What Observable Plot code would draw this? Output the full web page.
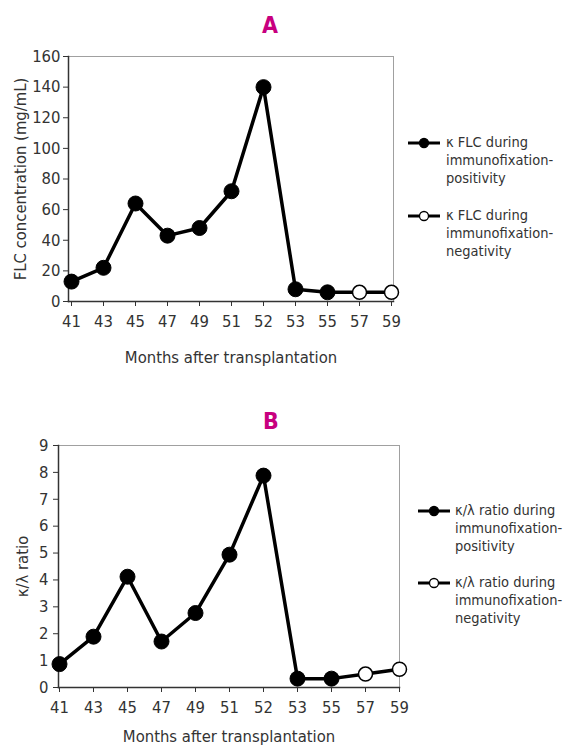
<!DOCTYPE html>
<html><head><meta charset="utf-8">
<script src="https://cdn.jsdelivr.net/npm/d3@7"></script>
<script src="https://cdn.jsdelivr.net/npm/@observablehq/plot@0.6"></script>
<style>
body{margin:0;background:#fff;}
#wrap{position:relative;width:572px;height:746px;overflow:hidden;font-family:"DejaVu Sans Condensed","DejaVu Sans",sans-serif;font-stretch:condensed;color:#333;}
.title{position:absolute;font-weight:bold;font-size:23px;color:#c8007f;transform:translate(-50%,-50%);line-height:1;}
.panel{position:absolute;left:0;}
.legend{position:absolute;font-size:14.5px;line-height:18px;color:#333;}
.legend svg{position:absolute;left:0;}
.legend .txt{position:absolute;}
</style></head>
<body><div id="wrap"></div>
<script>
const months = ["41","43","45","47","49","51","52","53","55","57","59"];
const flcValues = [13,22,64,43,48,72,140,8,6,6,6];
const ratioValues = [0.87,1.89,4.12,1.71,2.77,4.94,7.88,0.33,0.33,0.5,0.68];
const immunofixation = ["positive","positive","positive","positive","positive","positive","positive","positive","positive","negative","negative"];
const flcTicks = [0,20,40,60,80,100,120,140,160];
const ratioTicks = [0,1,2,3,4,5,6,7,8,9];
const xTitle = "Months after transplantation";
const legendA = [["κ FLC during","immunofixation-","positivity"],["κ FLC during","immunofixation-","negativity"]];
const legendB = [["κ/λ ratio during","immunofixation-","positivity"],["κ/λ ratio during","immunofixation-","negativity"]];

const FONT = '"DejaVu Sans Condensed","DejaVu Sans",sans-serif';
const wrap = document.getElementById("wrap");

function panel(o){
  const data = months.map((m,i)=>({month:m, value:o.values[i], status:immunofixation[i]}));
  return Plot.plot({
    width:572, height:o.height,
    marginLeft:o.mL, marginRight:o.mR, marginTop:o.mT, marginBottom:o.mB,
    style:{fontFamily:FONT, fontSize:"16px", color:"#333", background:"transparent", overflow:"visible"},
    x:{type:"point", domain:months, padding:0},
    y:{domain:[0,o.yMax]},
    marks:[
      Plot.frame({stroke:"#a0a0a0", strokeWidth:1}),
      Plot.axisY({ticks:o.ticks, tickSize:5, tickPadding:o.yPad, fontSize:16.5, fontFamily:FONT, label:o.yLabel, labelAnchor:"center", labelArrow:"none", labelOffset:o.yLabelOffset}),
      Plot.axisX({tickSize:5, tickPadding:9, fontSize:16.5, fontFamily:FONT, label:xTitle, labelAnchor:"center", labelArrow:"none", labelOffset:o.xLabelOffset}),
      Plot.frame({anchor:"left", stroke:"#333", strokeWidth:1.5}),
      Plot.frame({anchor:"bottom", stroke:"#333", strokeWidth:1.5}),
      Plot.line(data,{x:"month", y:"value", stroke:"black", strokeWidth:3.5}),
      Plot.dot(data.filter(d=>d.status==="positive"),{x:"month", y:"value", r:7.5, fill:"black", stroke:"black", strokeWidth:1}),
      Plot.dot(data.filter(d=>d.status==="negative"),{x:"month", y:"value", r:7, fill:"white", stroke:"black", strokeWidth:1.5})
    ]
  });
}

function addTitle(t,x,y){
  const d=document.createElement("div"); d.className="title"; d.textContent=t;
  d.style.left=x+"px"; d.style.top=y+"px"; wrap.appendChild(d);
}
function addLegend(items,x,ys,textDx){
  items.forEach((lines,i)=>{
    const g=document.createElement("div"); g.className="legend";
    g.style.left=x+"px"; g.style.top=(ys[i]-9)+"px";
    const fill = i===0 ? "black" : "white";
    g.innerHTML = `<svg width="34" height="18" style="top:0"><line x1="1" x2="33" y1="10" y2="10" stroke="black" stroke-width="3"/><circle cx="17" cy="10" r="4.5" fill="${fill}" stroke="black" stroke-width="1.3"/></svg>`;
    const t=document.createElement("div"); t.className="txt"; t.style.left=textDx+"px"; t.style.top="0px";
    t.innerHTML = lines.map(l=>`<div style="white-space:nowrap">${l}</div>`).join("");
    g.appendChild(t);
    wrap.appendChild(g);
  });
}

addTitle("A",270,25);
const pA = panel({values:flcValues, ticks:flcTicks, yMax:160, yLabel:"FLC concentration (mg/mL)",
  height:325, mL:68, mR:179, mT:16, mB:64, yPad:3, yLabelOffset:54, xLabelOffset:61});
pA.classList.add("panel"); pA.style.top="40px"; wrap.appendChild(pA);
addLegend(legendA,407,[142,215],39);

addTitle("B",271,421);
const pB = panel({values:ratioValues, ticks:ratioTicks, yMax:9, yLabel:"κ/λ ratio",
  height:316, mL:58, mR:173, mT:15, mB:59, yPad:5, yLabelOffset:42, xLabelOffset:54});
pB.classList.add("panel"); pB.style.top="430px"; wrap.appendChild(pB);
addLegend(legendB,417,[510,582],38);
</script>
</body></html>
